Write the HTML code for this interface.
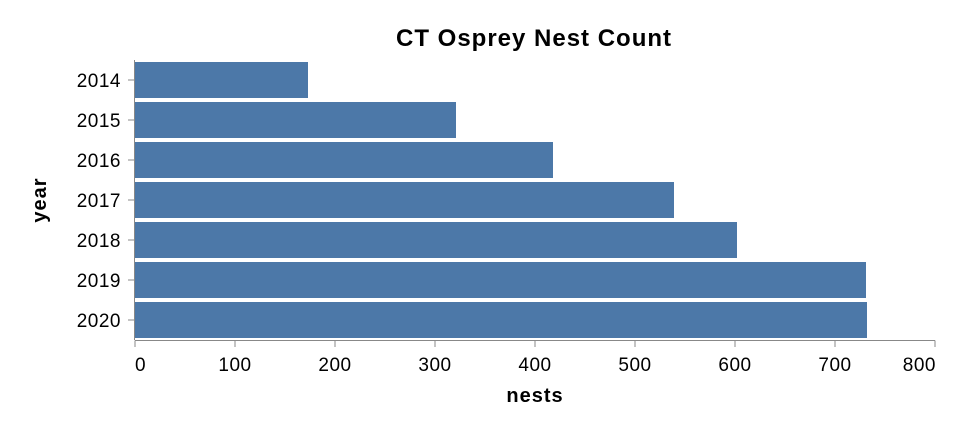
<!DOCTYPE html>
<html><head><meta charset="utf-8"><style>
body{margin:0;background:#fff;}
svg text{font-family:"Liberation Sans",sans-serif;}
</style></head><body>
<svg id="chart" width="962" height="430" xmlns="http://www.w3.org/2000/svg">
<text x="534" y="46" text-anchor="middle" font-size="24" font-weight="bold" letter-spacing="1" fill="#000">CT Osprey Nest Count</text>
<g id="bars"></g>
<g id="axes"></g>
<text x="535" y="402" text-anchor="middle" font-size="20" font-weight="bold" letter-spacing="1" fill="#000">nests</text>
<text transform="translate(46,200) rotate(-90)" text-anchor="middle" font-size="20" font-weight="bold" letter-spacing="1" fill="#000">year</text>
</svg>
<script>
const years = ["2014","2015","2016","2017","2018","2019","2020"];
const nests = [173, 321, 418, 539, 602, 731, 732];
const xTicks = [0,100,200,300,400,500,600,700,800];
const NS="http://www.w3.org/2000/svg";
const x0=135, x1=935, xMax=800, yTop=60, band=40;
function xs(v){return x0+(v/xMax)*(x1-x0);}
function ys(i){return yTop+i*band;}
function mk(t,a,p){const e=document.createElementNS(NS,t);for(const k in a)e.setAttribute(k,a[k]);p.appendChild(e);return e;}
const bars=document.getElementById('bars'), axes=document.getElementById('axes');
years.forEach((y,i)=>{
  const r=mk('rect',{x:xs(0),y:ys(i)+2,width:xs(nests[i])-xs(0),height:band-4,fill:'#4c78a8'},bars);
  
  
  const t=mk('line',{x1:128,x2:134.5,y1:ys(i)+band/2,y2:ys(i)+band/2,stroke:'#888','stroke-width':1},axes);
  
  
  const l=mk('text',{x:121,y:ys(i)+band/2+7,'text-anchor':'end','font-size':19,'letter-spacing':0.5,fill:'#000'},axes);
  l.textContent=y;
  
  
});
const ya=mk('line',{x1:134.5,x2:134.5,y1:yTop,y2:yTop+band*years.length,stroke:'#888','stroke-width':1},axes);


const xa=mk('line',{x1:x0,x2:x1,y1:340.5,y2:340.5,stroke:'#888','stroke-width':1},axes);


xTicks.forEach(v=>{
  const t=mk('line',{x1:xs(v),x2:xs(v),y1:340.5,y2:347,stroke:'#888','stroke-width':1},axes);
  
  
  const anchor=v===0?'start':(v===xMax?'end':'middle');
  const l=mk('text',{x:xs(v)+(v===0?0:(v===xMax?1:0)),y:371,'text-anchor':anchor,'font-size':19,'letter-spacing':0.5,fill:'#000'},axes);
  l.textContent=v;
  
  
});
</script>
</body></html>
